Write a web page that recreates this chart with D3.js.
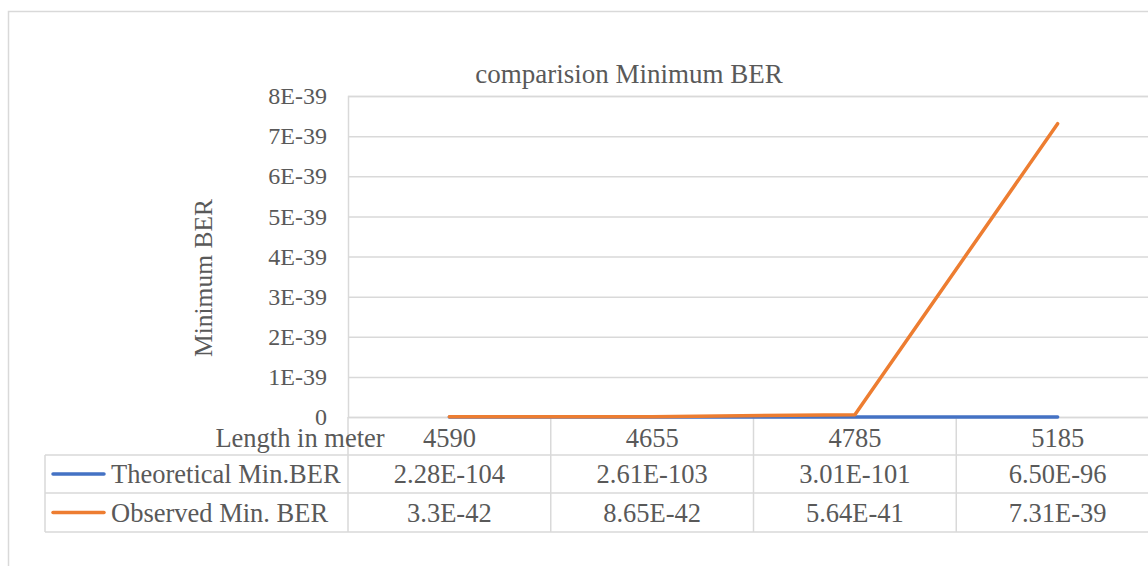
<!DOCTYPE html>
<html>
<head>
<meta charset="utf-8">
<script src="https://cdn.jsdelivr.net/npm/d3@7/dist/d3.min.js"></script>
<style>
  html, body { margin: 0; padding: 0; background: #fff; overflow: hidden; }
  svg { display: block; font-family: "Liberation Serif", "Times New Roman", serif; }
  text { fill: #595959; }
</style>
</head>
<body>
<svg id="chart" width="1148" height="566"></svg>
<script>
// Lengths (metres) and the minimum bit error rates measured at each
const categories = ["4590", "4655", "4785", "5185"];
const theoretical = [2.28e-104, 2.61e-103, 3.01e-101, 6.50e-96];
const observed = [3.3e-42, 8.65e-42, 5.64e-41, 7.31e-39];
const theoreticalLabels = ["2.28E-104", "2.61E-103", "3.01E-101", "6.50E-96"];
const observedLabels = ["3.3E-42", "8.65E-42", "5.64E-41", "7.31E-39"];
const yTickValues = [0, 1e-39, 2e-39, 3e-39, 4e-39, 5e-39, 6e-39, 7e-39, 8e-39];
const seriesNames = ["Theoretical Min.BER", "Observed Min. BER"];
const seriesColors = ["#4472C4", "#ED7D31"];

const svg = d3.select("#chart");
const grid = "#d9d9d9";
const tableFont = "26.5px";

const plot = { left: 348, right: 1159, top: 96, bottom: 417 };
const rowH = [417, 455, 493, 532];

const x = d3.scaleBand().domain(categories).range([plot.left, plot.right]).padding(0);
const y = d3.scaleLinear().domain([0, 8e-39]).range([plot.bottom, plot.top]);

// chart frame
svg.append("rect")
  .attr("x", 8.5).attr("y", 11.5)
  .attr("width", 1300).attr("height", 700)
  .attr("fill", "none").attr("stroke", grid).attr("stroke-width", 1.5);

// title
svg.append("text")
  .attr("x", 629).attr("y", 83)
  .attr("text-anchor", "middle")
  .style("font-size", "27px")
  .text("comparision Minimum BER");

// horizontal gridlines and y tick labels
const fmt = d => d === 0 ? "0" : Math.round(d / 1e-39) + "E-39";
const yAxis = d3.axisLeft(y).tickValues(yTickValues).tickFormat(fmt)
  .tickSize(-(plot.right - plot.left)).tickPadding(21);
const gy = svg.append("g").attr("transform", `translate(${plot.left},0)`).call(yAxis);
gy.attr("font-family", null);
gy.select(".domain").attr("stroke", grid).attr("stroke-width", 1.5);
gy.selectAll(".tick line").attr("stroke", grid).attr("stroke-width", 1.5);
gy.selectAll(".tick text").style("font-size", "24px").attr("fill", "#595959");

// y axis title
svg.append("text")
  .attr("transform", "translate(212,278) rotate(-90)")
  .attr("text-anchor", "middle")
  .style("font-size", "25.5px")
  .text("Minimum BER");

// data table grid
const tbl = svg.append("g");
tbl.selectAll("line.row")
  .data(rowH.slice(1))
  .join("line")
  .attr("x1", 45).attr("x2", 1148)
  .attr("y1", d => d).attr("y2", d => d)
  .attr("stroke", grid).attr("stroke-width", 1.5);
tbl.append("line")
  .attr("x1", 45).attr("x2", 45).attr("y1", rowH[1]).attr("y2", rowH[3])
  .attr("stroke", grid).attr("stroke-width", 1.5);
const colEdges = categories.map(c => x(c)).concat([plot.right]);
tbl.selectAll("line.col")
  .data(colEdges)
  .join("line")
  .attr("x1", d => d).attr("x2", d => d)
  .attr("y1", rowH[0]).attr("y2", rowH[3])
  .attr("stroke", grid).attr("stroke-width", 1.5);

// header row
tbl.append("text")
  .attr("x", 300).attr("y", 447)
  .attr("text-anchor", "middle")
  .style("font-size", tableFont)
  .text("Length in meter");
tbl.selectAll("text.cat")
  .data(categories)
  .join("text")
  .attr("x", d => x(d) + x.bandwidth() / 2)
  .attr("y", 447)
  .attr("text-anchor", "middle")
  .style("font-size", tableFont)
  .text(d => d);

// value rows with legend keys
const rows = [theoreticalLabels, observedLabels];
rows.forEach((labels, i) => {
  const cy = (rowH[i + 1] + rowH[i + 2]) / 2;
  tbl.append("line")
    .attr("x1", 53).attr("x2", 104)
    .attr("y1", cy).attr("y2", cy)
    .attr("stroke", seriesColors[i]).attr("stroke-width", 3.5)
    .attr("stroke-linecap", "round");
  tbl.append("text")
    .attr("x", 111).attr("y", cy + 9)
    .style("font-size", tableFont)
    .text(seriesNames[i]);
  tbl.selectAll(null)
    .data(labels)
    .join("text")
    .attr("x", (d, j) => x(categories[j]) + x.bandwidth() / 2)
    .attr("y", cy + 9)
    .attr("text-anchor", "middle")
    .style("font-size", tableFont)
    .text(d => d);
});

// series lines
const line = d3.line()
  .x((d, i) => x(categories[i]) + x.bandwidth() / 2)
  .y(d => y(d));
[theoretical, observed].forEach((vals, i) => {
  svg.append("path")
    .datum(vals)
    .attr("d", line)
    .attr("fill", "none")
    .attr("stroke", seriesColors[i])
    .attr("stroke-width", 3.5)
    .attr("stroke-linecap", "round")
    .attr("stroke-linejoin", "round");
});
</script>
</body>
</html>
